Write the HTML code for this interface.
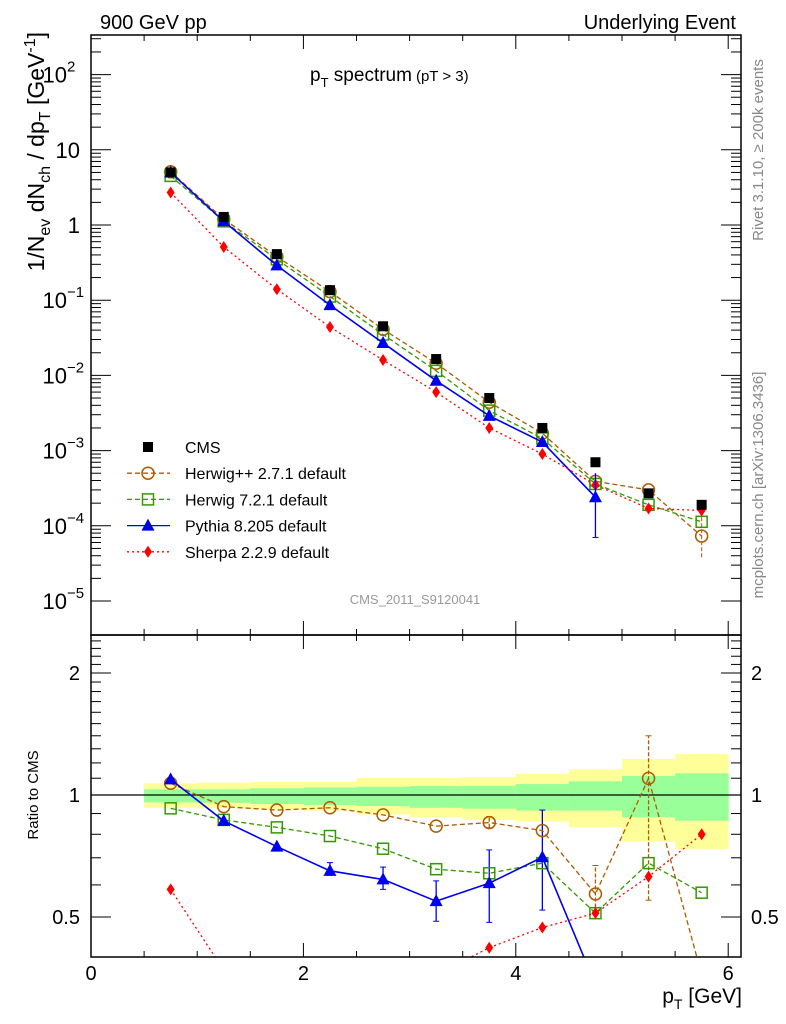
<!DOCTYPE html>
<html><head><meta charset="utf-8"><style>
html,body{margin:0;padding:0;background:#fff;}
svg{display:block;font-family:"Liberation Sans",sans-serif;}
</style></head><body>
<svg id="c" width="786" height="1024" viewBox="0 0 786 1024" xmlns="http://www.w3.org/2000/svg">
<defs>
<clipPath id="clipTop"><rect x="91" y="35" width="650" height="600"/></clipPath>
<clipPath id="clipBot"><rect x="91" y="635" width="650" height="322"/></clipPath>
</defs>
<g id="bands" clip-path="url(#clipBot)"></g>
<g id="grid"></g>
<g id="series"></g>
<rect x="91" y="35" width="650" height="600" fill="none" stroke="#000" stroke-width="1.5"/>
<rect x="91" y="635" width="650" height="322" fill="none" stroke="#000" stroke-width="1.5"/>
<text x="100" y="29" font-size="20">900 GeV pp</text>
<text x="736" y="29" font-size="20" text-anchor="end">Underlying Event</text>
<text x="310" y="81" font-size="19">p<tspan font-size="13" dy="6">T</tspan><tspan dy="-6"> spectrum</tspan><tspan font-size="15" dx="4">(pT &gt;  3)</tspan></text>
<text transform="translate(44,32) rotate(-90)" font-size="23" text-anchor="end">1/N<tspan font-size="16" dy="6">ev</tspan><tspan dy="-6"> dN</tspan><tspan font-size="16" dy="6">ch</tspan><tspan dy="-6"> / dp</tspan><tspan font-size="16" dy="6">T</tspan><tspan dy="-6">  [GeV</tspan><tspan font-size="16" dy="-9">-1</tspan><tspan dy="9">]</tspan></text>
<text transform="translate(763,150) rotate(-90)" font-size="15" fill="#888" text-anchor="middle">Rivet 3.1.10, ≥ 200k events</text>
<text transform="translate(763,485) rotate(-90)" font-size="15" fill="#888" text-anchor="middle">mcplots.cern.ch [arXiv:1306.3436]</text>
<text x="415" y="604" font-size="13" fill="#999" text-anchor="middle">CMS_2011_S9120041</text>
<text transform="translate(38,795) rotate(-90)" font-size="15" text-anchor="middle">Ratio to CMS</text>
<text x="742" y="1003" font-size="21" text-anchor="end">p<tspan font-size="14" dy="6">T</tspan><tspan dy="-6"> [GeV]</tspan></text>
<g id="legend"></g>
</svg>
<script>
const xCenters=[0.75,1.25,1.75,2.25,2.75,3.25,3.75,4.25,4.75,5.25,5.75];
const binEdges=[0.5,1,1.5,2,2.5,3,3.5,4,4.5,5,5.5,6];
const cms=[5.0,1.28,0.41,0.136,0.045,0.0165,0.005,0.002,0.0007,0.00027,0.00019];
const herwigpp=[5.1,1.2,0.38,0.13,0.041,0.0145,0.0044,0.0017,0.00039,0.0003,0.000073];
const herwig7=[4.5,1.12,0.35,0.112,0.035,0.0115,0.0034,0.00145,0.00036,0.00019,0.000113];
const pythia=[5.0,1.12,0.29,0.086,0.027,0.0085,0.0029,0.0013,0.00024];
const sherpa=[2.7,0.51,0.14,0.044,0.016,0.006,0.002,0.0009,0.00035,0.00017,0.00016];
const rHerwigpp=[1.069,0.936,0.918,0.93,0.893,0.838,0.855,0.817,0.57,1.099,0.36];
const rHerwig7=[0.927,0.868,0.832,0.792,0.737,0.656,0.641,0.679,0.511,0.679,0.574];
const rPythia=[1.093,0.863,0.746,0.65,0.619,0.547,0.606,0.702,0.34];
const rSherpa=[0.585,0.37,0.34,0.32,0.355,0.36,0.42,0.471,0.511,0.629,0.80];
const yellowHi=[1.069,1.073,1.077,1.077,1.101,1.101,1.106,1.127,1.157,1.227,1.262];
const yellowLo=[0.930,0.927,0.922,0.915,0.896,0.881,0.868,0.859,0.832,0.767,0.736];
const greenHi=[1.033,1.033,1.039,1.044,1.048,1.052,1.054,1.064,1.081,1.114,1.131];
const greenLo=[0.959,0.957,0.950,0.945,0.939,0.930,0.925,0.915,0.915,0.881,0.864];
const xTicks=[0,2,4,6];
const yDecades=[-5,-4,-3,-2,-1,0,1,2];
const yDecadeLabels=["10","10","10","10","10","1","10","10"];
const yDecadeExps=["−5","−4","−3","−2","−1","","","2"];
const ratioTicks=[0.5,1,2];
const ratioTickLabels=["0.5","1","2"];
const pyErrLo=[null,null,null,0.634,0.585,0.488,0.485,0.52,null];
const pyErrHi=[null,null,null,0.681,0.664,0.614,0.732,0.918,null];
const hppErrLo=[null,null,null,null,null,null,0.83,null,0.51,0.55,null];
const hppErrHi=[null,null,null,null,null,null,0.885,null,0.67,1.40,null];

const NS="http://www.w3.org/2000/svg";
const X=v=>91+v*106.2;
const Y=v=>225-75.2*Math.log10(v);
const R=v=>795-122*Math.log2(v);
function mk(tag,attrs,parent){const e=document.createElementNS(NS,tag);for(const k in attrs)e.setAttribute(k,attrs[k]);parent.appendChild(e);return e;}
const bands=document.getElementById('bands'),grid=document.getElementById('grid'),ser=document.getElementById('series'),leg=document.getElementById('legend');

for(let i=0;i<xCenters.length;i++){
 let e=mk('rect',{x:X(binEdges[i]),y:R(yellowHi[i]),width:X(binEdges[i+1])-X(binEdges[i])+0.5,height:R(yellowLo[i])-R(yellowHi[i]),fill:'#ffff99'},bands);
 
 
 e=mk('rect',{x:X(binEdges[i]),y:R(greenHi[i]),width:X(binEdges[i+1])-X(binEdges[i])+0.5,height:R(greenLo[i])-R(greenHi[i]),fill:'#99ff99'},bands);
 
 
}
let ref=mk('line',{x1:91,x2:741,y1:R(1),y2:R(1),stroke:'#000','stroke-width':1.3},grid);



for(let v=0;v<=6.01;v+=0.5){const big=Math.abs(v-Math.round(v/2)*2)<1e-6;const L=big?14:6;
 for(const yb of [635,957]){mk('line',{x1:X(v),x2:X(v),y1:yb,y2:yb-L,stroke:'#000'},grid);}
 mk('line',{x1:X(v),x2:X(v),y1:35,y2:35+L,stroke:'#000'},grid);
 mk('line',{x1:X(v),x2:X(v),y1:635,y2:635+L,stroke:'#000'},grid);}
xTicks.forEach(v=>{const t=mk('text',{x:X(v),y:980,'font-size':20,'text-anchor':'middle'},grid);t.textContent=v;
 
 });
yDecades.forEach((d,i)=>{const y=Y(Math.pow(10,d));
 mk('line',{x1:91,x2:111,y1:y,y2:y,stroke:'#000'},grid);mk('line',{x1:741,x2:721,y1:y,y2:y,stroke:'#000'},grid);
 for(let m=2;m<10;m++){const ym=Y(m*Math.pow(10,d));if(ym>35){mk('line',{x1:91,x2:101,y1:ym,y2:ym,stroke:'#000'},grid);mk('line',{x1:741,x2:731,y1:ym,y2:ym,stroke:'#000'},grid);}}
 const hasExp=yDecadeExps[i]!=="";
 const t=mk('text',{x:hasExp?67:80,y:y+8,'font-size':22,'text-anchor':'end'},grid);t.textContent=yDecadeLabels[i];
 
 
 if(hasExp){const s=mk('text',{x:67,y:y-3,'font-size':15},grid);s.textContent=yDecadeExps[i];}
});
for(let v=0.4;v<=2.5;v+=0.1){const y=R(v);if(y<636||y>956)continue;const big=ratioTicks.some(r=>Math.abs(r-v)<1e-6);const L=big?20:10;
 mk('line',{x1:91,x2:91+L,y1:y,y2:y,stroke:'#000'},grid);mk('line',{x1:741,x2:741-L,y1:y,y2:y,stroke:'#000'},grid);}
ratioTicks.forEach((v,i)=>{for(const [x,a] of [[80,'end'],[751,'start']]){const t=mk('text',{x:x,y:R(v)+7,'font-size':20,'text-anchor':a},grid);t.textContent=ratioTickLabels[i];
 
 }});

function marker(kind,x,y,color,g){
 if(kind==='circle')return mk('circle',{cx:x,cy:y,r:6,fill:'none',stroke:color,'stroke-width':1.5},g);
 if(kind==='square')return mk('rect',{x:x-5.5,y:y-5.5,width:11,height:11,fill:'none',stroke:color,'stroke-width':1.5},g);
 if(kind==='tri')return mk('path',{d:`M${x},${y-7}L${x+6.5},${y+5}L${x-6.5},${y+5}Z`,fill:color},g);
 if(kind==='diamond')return mk('path',{d:`M${x},${y-6}L${x+4},${y}L${x},${y+6}L${x-4},${y}Z`,fill:color},g);
 if(kind==='cms')return mk('rect',{x:x-5,y:y-5,width:10,height:10,fill:'#000'},g);
}
function series(name,vals,fy,clip,color,dash,kind,width){
 const g=mk('g',{'clip-path':`url(#${clip})`},ser);
 
 
 if(dash!==null){const pts=vals.map((v,i)=>X(xCenters[i])+','+fy(v)).join(' ');
  mk('polyline',{points:pts,fill:'none',stroke:color,'stroke-width':width||1.3,'stroke-dasharray':dash},g);}
 vals.forEach((v,i)=>{const m=marker(kind,X(xCenters[i]),fy(v),color,g);
  
  });
 return g;
}
function errs(lo,hi,color,clip,dash){const g=mk('g',{'clip-path':`url(#${clip})`},ser);
 lo.forEach((l,i)=>{if(l==null)return;const x=X(xCenters[i]);mk('line',{x1:x,x2:x,y1:R(l),y2:R(hi[i]),stroke:color,'stroke-width':1.3,'stroke-dasharray':dash||''},g);
  mk('line',{x1:x-3,x2:x+3,y1:R(l),y2:R(l),stroke:color},g);mk('line',{x1:x-3,x2:x+3,y1:R(hi[i]),y2:R(hi[i]),stroke:color},g);});}
series('herwigpp-main',herwigpp,Y,'clipTop','#b05a00','5,3','circle');
series('herwig7-main',herwig7,Y,'clipTop','#339900','5,3','square');
series('pythia-main',pythia,Y,'clipTop','#0000ee','','tri',1.6);
series('sherpa-main',sherpa,Y,'clipTop','#ff0000','2,3','diamond');
series('cms-main',cms,Y,'clipTop','#000',null,'cms');
{const g=ser;const x=X(4.75);mk('line',{x1:x,x2:x,y1:Y(0.0005),y2:Y(0.00007),stroke:'#0000ee','stroke-width':1.3},g);mk('line',{x1:x-3,x2:x+3,y1:Y(0.00007),y2:Y(0.00007),stroke:'#0000ee'},g);
 const x2=X(5.75);mk('line',{x1:x2,x2:x2,y1:Y(0.00013),y2:Y(0.000037),stroke:'#b05a00','stroke-dasharray':'4,2'},g);}
errs(pyErrLo,pyErrHi,'#0000ee','clipBot');
errs(hppErrLo,hppErrHi,'#b05a00','clipBot','4,2');
series('herwigpp-ratio',rHerwigpp,R,'clipBot','#b05a00','5,3','circle');
series('herwig7-ratio',rHerwig7,R,'clipBot','#339900','5,3','square');
series('pythia-ratio',rPythia,R,'clipBot','#0000ee','','tri',1.6);
series('sherpa-ratio',rSherpa,R,'clipBot','#ff0000','2,3','diamond');

const legNames=['CMS','Herwig++ 2.7.1 default','Herwig 7.2.1 default','Pythia 8.205 default','Sherpa 2.2.9 default'];
const legColors=['#000','#b05a00','#339900','#0000ee','#ff0000'];
const legKinds=['cms','circle','square','tri','diamond'];
const legDash=[null,'5,3','5,3','','2,3'];
legNames.forEach((n,i)=>{const y=447+i*26.2;const g=mk('g',{},leg);
 
 
 if(legDash[i]!==null)mk('line',{x1:127,x2:170,y1:y,y2:y,stroke:legColors[i],'stroke-width':1.3,'stroke-dasharray':legDash[i]},g);
 marker(legKinds[i],148,y,legColors[i],g);
 const t=mk('text',{x:185,y:y+6,'font-size':16},g);t.textContent=n;});
</script>
</body></html>
